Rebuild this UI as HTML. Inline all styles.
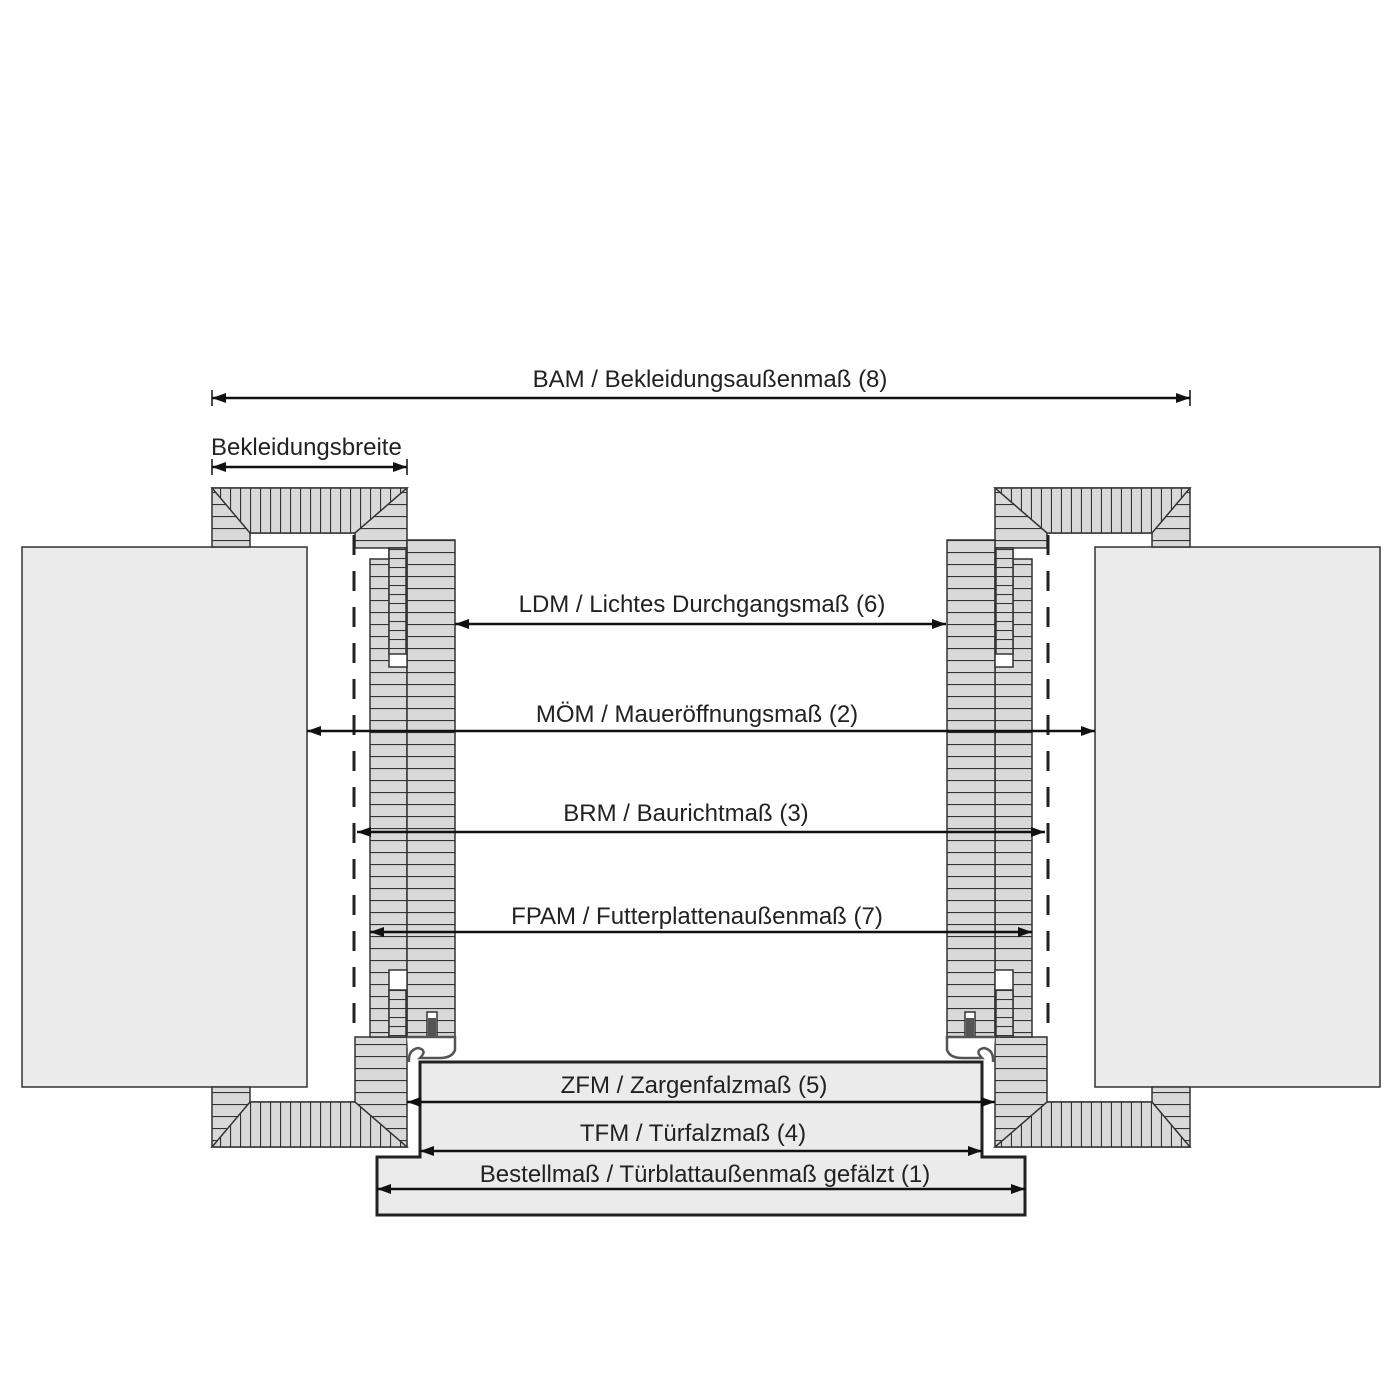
<!DOCTYPE html>
<html><head><style>
html,body{margin:0;padding:0;background:#fff}
svg{display:block}
text{font-family:"Liberation Sans",sans-serif;font-size:24px;fill:#222}
</style></head><body>
<svg width="1400" height="1400" viewBox="0 0 1400 1400" xmlns="http://www.w3.org/2000/svg">
<defs>
<pattern id="h" width="12" height="12" patternUnits="userSpaceOnUse">
<rect width="12" height="12" fill="#d9d9d9"/><line x1="0" y1="0.5" x2="12" y2="0.5" stroke="#333" stroke-width="1.2"/>
</pattern>
<pattern id="hs" width="9" height="9" patternUnits="userSpaceOnUse">
<rect width="9" height="9" fill="#d9d9d9"/><line x1="0" y1="0.5" x2="9" y2="0.5" stroke="#333" stroke-width="1.1"/>
</pattern>
<pattern id="v" width="10" height="10" patternUnits="userSpaceOnUse">
<rect width="10" height="10" fill="#d9d9d9"/><line x1="0.5" y1="0" x2="0.5" y2="10" stroke="#333" stroke-width="1.2"/>
</pattern>
<marker id="a" markerWidth="14" markerHeight="10" refX="14" refY="5" orient="auto-start-reverse" markerUnits="userSpaceOnUse">
<path d="M0,0 L14,5 L0,10 Z" fill="#111"/>
</marker>
<g id="side" stroke="#333" stroke-width="1.5">
<rect x="22" y="547" width="285" height="540" fill="#ebebeb"/>
<polygon points="212,488 407,488 407,548 355,548 355,533 250,533 250,547 212,547" fill="url(#h)"/>
<polygon points="212,488 407,488 355,533 250,533" fill="url(#v)"/>
<polygon points="212,1147 407,1147 407,1037 355,1037 355,1102 250,1102 250,1087 212,1087" fill="url(#h)"/>
<polygon points="212,1147 407,1147 355,1102 250,1102" fill="url(#v)"/>
<rect x="370" y="559" width="37" height="478" fill="url(#h)"/>
<rect x="407" y="540" width="48" height="497" fill="url(#h)"/>
<rect x="389" y="548" width="18" height="119" fill="#fff"/>
<rect x="389" y="548" width="17" height="106" fill="url(#hs)"/>
<rect x="389" y="970" width="18" height="67" fill="#fff"/>
<rect x="389" y="990" width="17" height="47" fill="url(#hs)"/>
<rect x="427" y="1012" width="10" height="25" fill="#fff"/>
<rect x="428" y="1018" width="8" height="19" fill="#555" stroke="none"/>
<path d="M407,1037 L455,1037 L455,1050 Q452,1058 440,1058 L420,1058 Q428,1050 418,1048 Q408,1050 409,1062" fill="#fff" stroke="#555" stroke-width="2.5"/>
<line x1="354" y1="535" x2="354" y2="1037" stroke="#222" stroke-width="3" stroke-dasharray="20,16"/>
</g>
</defs>
<use href="#side"/>
<use href="#side" transform="translate(1402,0) scale(-1,1)"/>
<polygon points="420,1062 982,1062 982,1157 1025,1157 1025,1215 377,1215 377,1157 420,1157" fill="#ebebeb" stroke="#222" stroke-width="3"/>
<g stroke="#111" stroke-width="2.5" marker-start="url(#a)" marker-end="url(#a)">
<line x1="212" y1="398" x2="1190" y2="398"/>
<line x1="212" y1="467" x2="407" y2="467"/>
<line x1="455" y1="624" x2="946" y2="624"/>
<line x1="307" y1="731" x2="1095" y2="731"/>
<line x1="357" y1="832" x2="1045" y2="832"/>
<line x1="370" y1="932" x2="1032" y2="932"/>
<line x1="407" y1="1102" x2="995" y2="1102"/>
<line x1="420" y1="1151" x2="982" y2="1151"/>
<line x1="377" y1="1189" x2="1025" y2="1189"/>
</g>
<line x1="212" y1="390" x2="212" y2="406" stroke="#111" stroke-width="1.5"/>
<line x1="1190" y1="390" x2="1190" y2="406" stroke="#111" stroke-width="1.5"/>
<line x1="212" y1="459" x2="212" y2="475" stroke="#111" stroke-width="1.5"/>
<line x1="407" y1="459" x2="407" y2="475" stroke="#111" stroke-width="1.5"/>
<g text-anchor="middle">
<text x="710" y="387">BAM / Bekleidungsaußenmaß (8)</text>
<text x="702" y="612">LDM / Lichtes Durchgangsmaß (6)</text>
<text x="697" y="722">MÖM / Maueröffnungsmaß (2)</text>
<text x="686" y="821">BRM / Baurichtmaß (3)</text>
<text x="697" y="924">FPAM / Futterplattenaußenmaß (7)</text>
<text x="694" y="1093">ZFM / Zargenfalzmaß (5)</text>
<text x="693" y="1141">TFM / Türfalzmaß (4)</text>
<text x="705" y="1182">Bestellmaß / Türblattaußenmaß gefälzt (1)</text>
</g>
<text x="211" y="455">Bekleidungsbreite</text>
</svg>
</body></html>
